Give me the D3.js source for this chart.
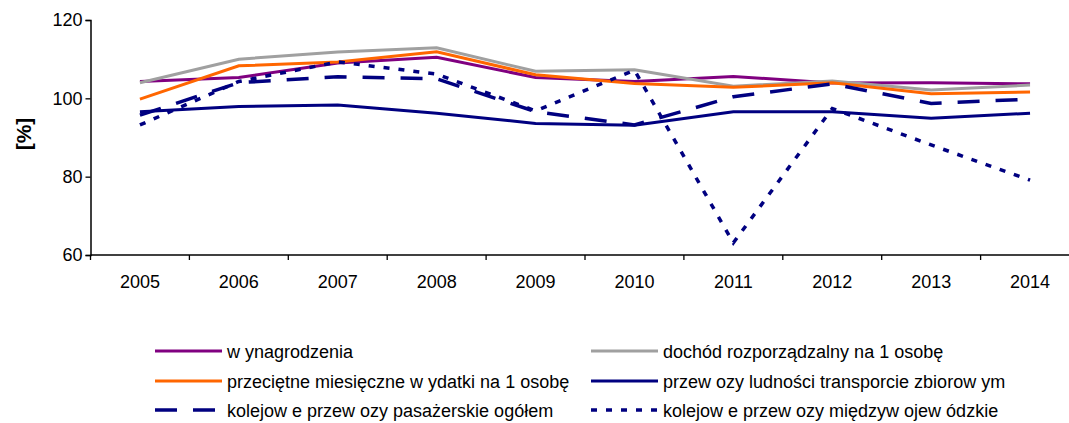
<!DOCTYPE html>
<html>
<head>
<meta charset="utf-8">
<script src="https://cdn.jsdelivr.net/npm/d3@7"></script>
<style>
  body { margin: 0; background: #fff; }
  text { font-family: "Liberation Sans", Arial, sans-serif; }
</style>
</head>
<body>
<div id="chart"></div>
<script>
// data
var years = ["2005","2006","2007","2008","2009","2010","2011","2012","2013","2014"];
var wynagrodzenia = [104.3,105.3,109.0,110.5,105.3,104.3,105.6,103.9,104.0,103.7];
var dochod        = [104.0,110.0,111.8,112.9,106.9,107.3,103.1,104.4,102.1,103.4];
var wydatki       = [99.8,108.3,109.3,111.9,106.0,103.8,102.8,104.0,101.2,101.6];
var przewozy      = [96.6,97.9,98.3,96.2,93.6,93.1,96.6,96.6,94.9,96.2];
var kolejOgolem   = [95.7,104.0,105.5,105.0,96.6,93.2,100.4,103.7,98.7,99.8];
var kolejMiedzy   = [93.2,104.3,109.3,106.2,96.8,107.2,63.1,97.4,88.1,79.1];
var yTicks = [60, 80, 100, 120];

var series = [
  {name: "w ynagrodzenia", values: wynagrodzenia, color: "#800080", dash: null, w: 3},
  {name: "dochód rozporządzalny na 1 osobę", values: dochod, color: "#a0a0a0", dash: null, w: 3},
  {name: "przeciętne miesięczne w ydatki na 1 osobę", values: wydatki, color: "#ff6600", dash: null, w: 3},
  {name: "przew ozy ludności transporcie zbiorow ym", values: przewozy, color: "#000080", dash: null, w: 3},
  {name: "kolejow e przew ozy pasażerskie ogółem", values: kolejOgolem, color: "#000080", dash: "22,16", w: 3.5},
  {name: "kolejow e przew ozy międzyw ojew ódzkie", values: kolejMiedzy, color: "#000080", dash: "6,9", w: 3.5}
];

var width = 1069, height = 423;
var margin = {left: 90.5, top: 20, right: 0, bottom: 0};
var plotW = 989, plotH = 235;

var svg = d3.select("#chart").append("svg")
  .attr("width", width)
  .attr("height", height);

var g = svg.append("g")
  .attr("transform", "translate(" + margin.left + "," + margin.top + ")");

var x = d3.scaleBand().domain(years).range([0, plotW]);
var y = d3.scaleLinear().domain([60, 120]).range([plotH, 0]);

// y axis
var yAxis = g.append("g")
  .call(d3.axisLeft(y).tickValues(yTicks).tickSize(5).tickPadding(3));
yAxis.select(".domain").attr("stroke", "#000").attr("stroke-width", 1.5);
yAxis.selectAll(".tick line").attr("stroke", "#000").attr("stroke-width", 1.3);
yAxis.selectAll("text").attr("font-size", 18).attr("fill", "#000")
  .attr("font-family", "Liberation Sans, Arial, sans-serif");

// x axis: ticks on band edges
var xAxis = g.append("g")
  .attr("transform", "translate(0," + plotH + ")");
xAxis.append("line")
  .attr("x1", 0).attr("x2", plotW)
  .attr("stroke", "#000").attr("stroke-width", 1.5);
xAxis.selectAll(".xt")
  .data(years)
  .enter().append("line")
  .attr("x1", function(d) { return x(d); })
  .attr("x2", function(d) { return x(d); })
  .attr("y1", 0).attr("y2", 5)
  .attr("stroke", "#000").attr("stroke-width", 1.3);
xAxis.selectAll(".xl")
  .data(years)
  .enter().append("text")
  .attr("x", function(d) { return x(d) + x.bandwidth() / 2; })
  .attr("y", 33)
  .attr("text-anchor", "middle")
  .attr("font-size", 18)
  .text(function(d) { return d; });

// y label
svg.append("text")
  .attr("transform", "translate(31,134) rotate(-90)")
  .attr("text-anchor", "middle")
  .attr("font-size", 21)
  .attr("font-weight", "bold")
  .text("[%]");

// lines
var line = d3.line()
  .x(function(d, i) { return x(years[i]) + x.bandwidth() / 2; })
  .y(function(d) { return y(d); });

g.selectAll(".series")
  .data(series)
  .enter().append("path")
  .attr("d", function(s) { return line(s.values); })
  .attr("fill", "none")
  .attr("stroke", function(s) { return s.color; })
  .attr("stroke-width", function(s) { return s.w; })
  .attr("stroke-dasharray", function(s) { return s.dash; });

// legend
var legX = [155, 591], legY = [351, 381, 410];
var leg = svg.selectAll(".leg")
  .data(series)
  .enter().append("g")
  .attr("transform", function(s, i) {
    return "translate(" + legX[i % 2] + "," + legY[Math.floor(i / 2)] + ")";
  });
leg.append("line")
  .attr("x1", 0).attr("x2", 67)
  .attr("stroke", function(s) { return s.color; })
  .attr("stroke-width", function(s) { return s.w; })
  .attr("stroke-dasharray", function(s) { return s.dash; });
leg.append("text")
  .attr("x", 72)
  .attr("y", 6.5)
  .attr("font-size", 18)
  .text(function(s) { return s.name; });
</script>
</body>
</html>
